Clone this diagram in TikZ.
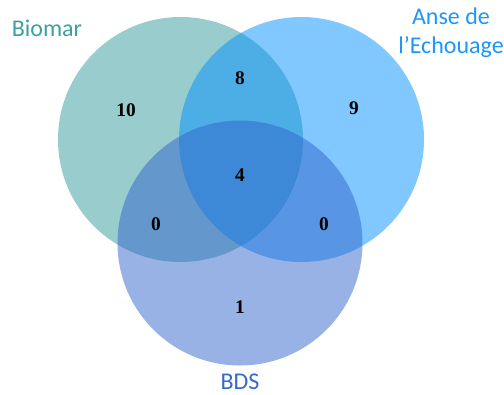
\documentclass[tikz,border=0pt]{standalone}
\usepackage{fontspec}
\setmainfont{Liberation Serif}
\newfontfamily\lblfont{Carlito}
\usepackage{tikz}
\usetikzlibrary{positioning}
\definecolor{BiomarTeal}{RGB}{51,153,153}
\definecolor{AnseBlue}{RGB}{1,145,255}
\definecolor{BdsBlue}{RGB}{49,101,205}
\definecolor{BiomarText}{RGB}{60,160,160}
\definecolor{AnseText}{RGB}{30,150,250}
\definecolor{BdsText}{RGB}{55,105,200}

\begin{document}
\begin{tikzpicture}[x=0.75pt, y=-0.75pt,
    set/.style={circle, draw=none, fill opacity=0.5, inner sep=0pt,
        minimum size=183.75pt},
    count/.style={font=\fontsize{14.5}{16}\selectfont\bfseries, text=black},
    title/.style={font=\lblfont\fontsize{18}{22}\selectfont, align=center},
]
\useasboundingbox (0,0) rectangle (504,394);
% the three sets
\node[set, fill=BiomarTeal] (biomar) at (180.5,139.5) {};
\node[set, fill=AnseBlue] (anse) at (301.5,139.5) {};
\node[set, fill=BdsBlue] (bds) at (240,243) {};

% set names
\node[title, text=BiomarText] (tbiomar) at (47,28) {Biomar};
\node[title, text=AnseText] (tanse) at (451,33) {Anse de\\l’Echouage};
\node[title, text=BdsText] (tbds) at (240,382) {BDS};

% counts
\node[count] (nb) at (126,110) {10};
\node[count] (na) at (354,108) {9};
\node[count] (nba) at (240,78) {8};
\node[count] (nall) at (240,175) {4};
\node[count] (nbd) at (156,224) {0};
\node[count] (nad) at (324,224) {0};
\node[count] (nd) at (240,307) {1};
\end{tikzpicture}
\end{document}
